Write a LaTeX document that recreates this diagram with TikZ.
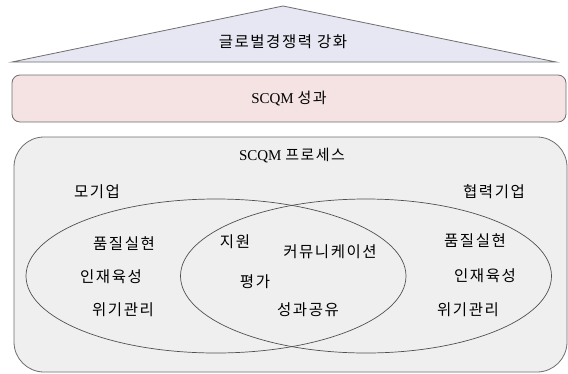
\documentclass[tikz,border=0pt]{standalone}
\usepackage{fontspec}
\usetikzlibrary{shapes.geometric}
\setmainfont{Liberation Serif}
\newfontfamily\kr{Noto Sans CJK KR}[LetterSpace=10]
\definecolor{trifill}{HTML}{E7E7F3}
\definecolor{resfill}{HTML}{F5E3E4}
\definecolor{procfill}{HTML}{EFEFEF}
\definecolor{edge}{HTML}{6E6E6E}
\definecolor{ell}{HTML}{505050}
\begin{document}
\begin{tikzpicture}[x=1pt,y=-1pt,
  lbl/.style={font=\kr\fontsize{15.5}{18}\selectfont, inner sep=0pt},
  ttl/.style={font=\fontsize{15}{18}\selectfont, inner sep=0pt},
  outline/.style={draw=edge, line width=0.8pt},
  ellline/.style={draw=ell, line width=0.7pt}]
\useasboundingbox (0,0) rectangle (568,373);
% roof
\filldraw[outline, fill=trifill] (12,62) -- (283,6) -- (556,62) -- cycle;
\node[lbl] (roof) at (283,42) {글로벌경쟁력 강화};
% result bar
\node[outline, fill=resfill, rounded corners=8pt, minimum width=554pt, minimum height=47pt, inner sep=0pt, ttl] (res) at (289,98.5) {SCQM {\kr 성과}};
% process box
\node[outline, fill=procfill, rounded corners=30pt, minimum width=553pt, minimum height=235pt, inner sep=0pt] (proc) at (290.5,254.5) {};
\node[ttl] (proct) at (292,156) {SCQM {\kr 프로세스}};
% ellipses
\node[ellline, ellipse, minimum width=380pt, minimum height=154pt, inner sep=0pt] (left) at (216,276) {};
\node[ellline, ellipse, minimum width=371pt, minimum height=154pt, inner sep=0pt] (right) at (366,276) {};
% labels
\node[lbl] (mo) at (97,192) {모기업};
\node[lbl] (hy) at (494,192) {협력기업};
\node[lbl] (l1) at (124,244) {품질실현};
\node[lbl] (l2) at (111,277) {인재육성};
\node[lbl] (l3) at (123,310) {위기관리};
\node[lbl] (c1) at (235,242) {지원};
\node[lbl] (c2) at (255,282) {평가};
\node[lbl] (c3) at (330,252) {커뮤니케이션};
\node[lbl] (c4) at (308,310) {성과공유};
\node[lbl] (r1) at (475,241) {품질실현};
\node[lbl] (r2) at (485,276) {인재육성};
\node[lbl] (r3) at (468,310) {위기관리};
\end{tikzpicture}
\end{document}
